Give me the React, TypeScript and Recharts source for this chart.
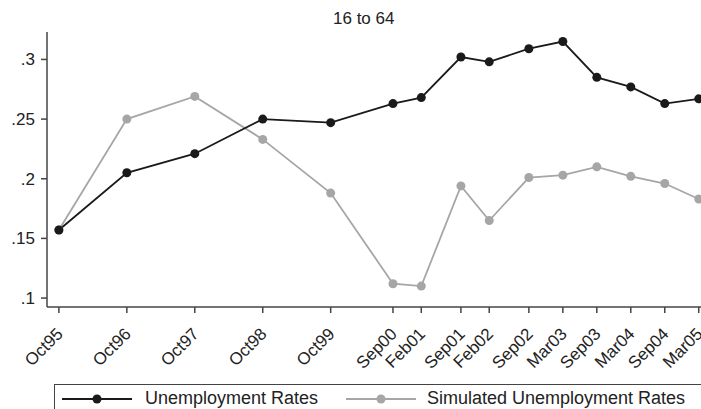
import React from 'react';
import { LineChart, Line, XAxis, YAxis } from 'recharts';

// survey waves, months counted from Oct95
const waveLabels = ['Oct95', 'Oct96', 'Oct97', 'Oct98', 'Oct99', 'Sep00', 'Feb01', 'Sep01', 'Feb02', 'Sep02', 'Mar03', 'Sep03', 'Mar04', 'Sep04', 'Mar05'];
const waveMonths = [0, 12, 24, 36, 48, 59, 64, 71, 76, 83, 89, 95, 101, 107, 113];

const unemployment = [0.157, 0.205, 0.221, 0.25, 0.247, 0.263, 0.268, 0.302, 0.298, 0.309, 0.315, 0.285, 0.277, 0.263, 0.267];
const simulated = [0.157, 0.25, 0.269, 0.233, 0.188, 0.112, 0.110, 0.194, 0.165, 0.201, 0.203, 0.21, 0.202, 0.196, 0.183];

const yTicks = [0.1, 0.15, 0.2, 0.25, 0.3];

const FONT = '"Liberation Sans", Arial, sans-serif';
const AXIS = '#444';
const BLACK = '#1a1a1a';
const GREY = '#a6a6a6';

const data = waveMonths.map((m, i) => ({
  month: m,
  label: waveLabels[i],
  unemp: unemployment[i],
  sim: simulated[i],
}));

const fmtY = (v: number) => String(v).replace(/^0/, '');

const XTick = (props: any) => {
  const { x, y, payload } = props;
  const idx = waveMonths.indexOf(payload.value);
  return (
    <g transform={`translate(${x + 5},${y + 22})`}>
      <text
        x={0}
        y={0}
        textAnchor="end"
        transform="rotate(-45)"
        fill="#222"
        fontSize={17}
        fontFamily={FONT}
      >
        {waveLabels[idx]}
      </text>
    </g>
  );
};

const LegendKey = ({ color }: { color: string }) => (
  <svg width={70} height={12} style={{ display: 'block' }}>
    <line x1={0} y1={6} x2={70} y2={6} stroke={color} strokeWidth={1.8} />
    <circle cx={35} cy={6} r={4.5} fill={color} />
  </svg>
);

export default function App() {
  return (
    <div style={{ position: 'absolute', left: 0, top: 0, width: 701, height: 409, background: '#fff', overflow: 'hidden', fontFamily: FONT }}>
      <div style={{ position: 'absolute', left: 333, top: 9, fontSize: 17, color: '#222', whiteSpace: 'nowrap' }}>
        16 to 64
      </div>
      <LineChart
        width={701}
        height={409}
        data={data}
        margin={{ top: 32, right: 0, left: 0, bottom: 0 }}
      >
        <XAxis
          dataKey="month"
          type="number"
          domain={[-2.1, 113.4]}
          ticks={waveMonths}
          interval={0}
          height={102}
          tickSize={6}
          tickMargin={0}
          stroke={AXIS}
          strokeWidth={1.5}
          tick={<XTick />}
          allowDataOverflow
        />
        <YAxis
          type="number"
          domain={[0.0925, 0.323]}
          ticks={yTicks}
          width={47}
          tickSize={6}
          tickMargin={6}
          stroke={AXIS}
          strokeWidth={1.5}
          tickFormatter={fmtY}
          tick={{ fill: '#222', fontSize: 17, fontFamily: FONT }}
          allowDataOverflow
        />
        <Line
          dataKey="sim"
          stroke={GREY}
          strokeWidth={1.8}
          dot={{ r: 4.5, fill: GREY, stroke: GREY, strokeWidth: 0 }}
          isAnimationActive={false}
        />
        <Line
          dataKey="unemp"
          stroke={BLACK}
          strokeWidth={1.8}
          dot={{ r: 4.5, fill: BLACK, stroke: BLACK, strokeWidth: 0 }}
          isAnimationActive={false}
        />
      </LineChart>
      <div style={{ position: 'absolute', left: 54, top: 384, width: 700, height: 60, border: '1.5px solid #444', boxSizing: 'border-box' }} />
      <div style={{ position: 'absolute', left: 62, top: 388, height: 21, display: 'flex', alignItems: 'center', fontSize: 18, lineHeight: '21px', color: '#222', whiteSpace: 'nowrap' }}>
        <LegendKey color={BLACK} />
        <span style={{ marginLeft: 13 }}>Unemployment Rates</span>
      </div>
      <div style={{ position: 'absolute', left: 346, top: 388, height: 21, display: 'flex', alignItems: 'center', fontSize: 18, lineHeight: '21px', color: '#222', whiteSpace: 'nowrap' }}>
        <LegendKey color={GREY} />
        <span style={{ marginLeft: 11 }}>Simulated Unemployment Rates</span>
      </div>
    </div>
  );
}
